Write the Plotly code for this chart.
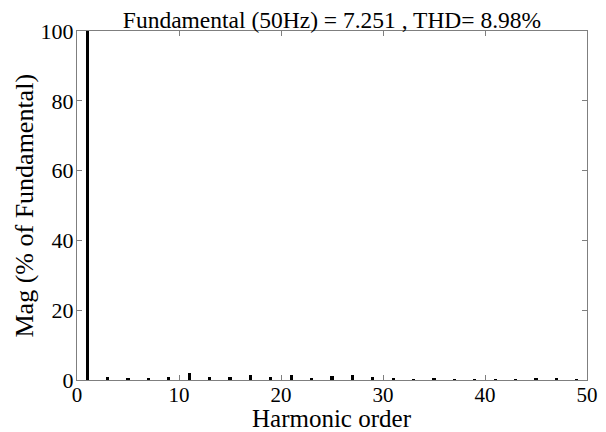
import plotly.graph_objects as go

# Harmonic spectrum (magnitude as % of fundamental)
harmonic_order = list(range(0, 51))
odd_mags = {
    1: 100.0, 3: 1.0, 5: 0.5, 7: 0.6, 9: 1.0, 11: 1.9, 13: 1.0, 15: 0.8,
    17: 1.3, 19: 0.9, 21: 1.3, 23: 0.5, 25: 1.1, 27: 1.5, 29: 1.0, 31: 0.4,
    33: 0.2, 35: 0.4, 37: 0.2, 39: 0.2, 41: 0.2, 43: 0.2, 45: 0.3, 47: 0.4,
    49: 0.2,
}
magnitude = [odd_mags.get(h, 0.0) for h in harmonic_order]

title_text = "Fundamental (50Hz) = 7.251 , THD= 8.98%"
x_label = "Harmonic order"
y_label = "Mag (% of Fundamental)"
x_ticks = [0, 10, 20, 30, 40, 50]
y_ticks = [0, 20, 40, 60, 80, 100]

font_family = "Liberation Serif, Times New Roman, serif"
W, H = 606, 432

fig = go.Figure(
    go.Bar(
        x=harmonic_order,
        y=magnitude,
        width=0.3,
        marker=dict(color="black", line=dict(width=0)),
    )
)

axis_common = dict(
    showline=True,
    linecolor="#7f7f7f",
    linewidth=1,
    mirror="allticks",
    ticks="inside",
    ticklen=5,
    tickcolor="#7f7f7f",
    showgrid=False,
    zeroline=False,
    automargin=False,
)

fig.update_layout(
    width=W,
    height=H,
    margin=dict(l=77, r=19, t=31, b=52),
    paper_bgcolor="white",
    plot_bgcolor="white",
    bargap=0,
    showlegend=False,
    title=dict(
        text=title_text,
        font=dict(family=font_family, size=23.5, color="black"),
        x=0.5,
        xanchor="center",
        xref="paper",
        yref="container",
        y=1 - 20 / H,
        yanchor="middle",
        automargin=False,
    ),
    xaxis=dict(
        range=[0, 50], tickvals=x_ticks, ticklabelstandoff=-4,
        tickfont=dict(family=font_family, size=21, color="black"), **axis_common,
    ),
    yaxis=dict(
        range=[0, 100], tickvals=y_ticks, ticklabelstandoff=-2,
        tickfont=dict(family=font_family, size=22, color="black"), **axis_common,
    ),
    annotations=[
        dict(
            text=x_label, xref="paper", x=0.5, xanchor="center",
            yref="paper", y=-(418 - 380) / (H - 31 - 52), yanchor="middle",
            showarrow=False, font=dict(family=font_family, size=25, color="black"),
        ),
        dict(
            text=y_label, textangle=-90, xref="paper", x=-(77 - 24) / (W - 77 - 19),
            xanchor="center", yref="paper", y=0.5, yanchor="middle",
            showarrow=False, font=dict(family=font_family, size=26, color="black"),
        ),
    ],
)

fig.write_html("out.html")
